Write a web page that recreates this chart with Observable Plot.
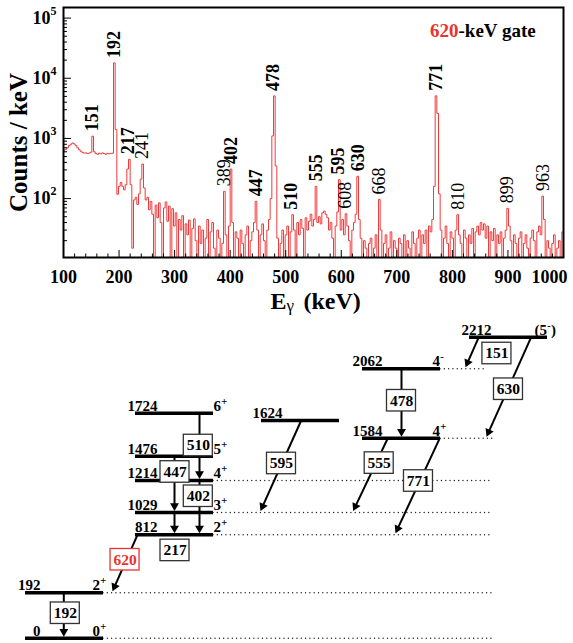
<!DOCTYPE html>
<html>
<head>
<meta charset="utf-8">
<script src="https://cdn.jsdelivr.net/npm/d3@7"></script>
<script src="https://cdn.jsdelivr.net/npm/@observablehq/plot@0.6"></script>
<style>
  html, body { margin: 0; padding: 0; background: #fff; }
  #chart svg { display: block; }
</style>
</head>
<body>
<div id="chart"></div>
<script>
// ---------------- DATA ----------------
// Gated gamma spectrum: counts per keV in 3-keV bins starting at 100 keV (0 = empty bin)
const binStart = 100;
const binWidth = 3;
const counts = [
  640,660,700,760,800,840,810,760,700,650,
  610,585,570,575,560,570,590,1090,600,560,
  545,570,555,575,560,545,565,555,560,570,
  18000,1400,118,160,185,160,140,170,310,450,
  170,15,95,105,80,120,210,375,150,95,
  105,65,90,55,0,78,48,85,40,0,
  70,88,42,75,0,68,35,58,0,45,
  30,52,0,38,25,44,0,32,46,20,
  0,35,18,30,0,22,45,0,28,40,
  15,0,30,22,0,18,132,25,0,35,
  310,40,0,28,22,0,30,18,0,25,
  35,0,20,28,40,90,30,0,25,38,
  20,0,30,45,100,1100,5090,350,22,0,
  18,30,0,25,35,0,28,54,30,0,
  40,25,45,32,0,48,30,42,55,35,
  45,160,40,50,38,58,62,55,48,30,
  40,22,0,35,60,207,30,45,25,56,
  35,20,0,30,40,55,235,45,22,0,
  20,15,0,18,22,0,15,25,0,97,
  30,0,18,25,0,15,28,0,20,15,
  0,22,18,0,25,0,20,15,0,28,
  18,0,22,30,0,25,18,30,0,35,
  28,45,160,5100,2600,120,30,0,22,35,
  18,0,28,22,0,30,54,25,18,0,
  30,22,0,25,18,32,0,28,35,25,
  40,30,38,22,35,0,28,20,32,0,
  25,18,28,0,22,30,69,35,20,0,
  25,18,0,22,28,0,18,25,15,0,
  22,30,20,0,28,35,25,110,45,0,
  20,15,0,18,25,0,15,20,0,28
];
// Labelled peaks
const peakEnergies = [151, 192, 217, 241, 389, 402, 447, 478, 510, 555, 595, 608, 630, 668, 771, 810, 899, 963];
const peakCounts   = [1090, 18000, 450, 375, 132, 310, 90, 5090, 54, 160, 207, 56, 235, 97, 5100, 54, 69, 110];
const peakBold     = [true, true, true, false, false, true, true, true, true, true, true, false, true, false, true, false, false, false];
// Axis ticks
const xTicks = [100, 200, 300, 400, 500, 600, 700, 800, 900, 1000];
const yDecades = [100, 1000, 10000, 100000];
const yExponents = ["2", "3", "4", "5"];
const gateEnergy = 620;

// Level scheme
const levelEnergies = [0, 192, 812, 1029, 1214, 1476, 1724, 1624, 1584, 2062, 2212];
const levelSpins    = ["0+", "2+", "2+", "3+", "4+", "5+", "6+", "", "4+", "4-", "(5-)"];
const levelColumns  = [0, 0, 1, 1, 1, 1, 1, 2, 3, 3, 4];
const levelDotted   = [true, true, true, true, true, false, false, false, true, true, false];
// Transitions
const gammaEnergies = [192, 620, 217, 447, 402, 510, 595, 555, 771, 478, 151, 630];
const gammaFrom     = [192, 812, 1029, 1476, 1214, 1724, 1624, 1584, 1584, 2062, 2212, 2212];
const gammaTo       = [0, 192, 812, 1029, 812, 1214, 1029, 1029, 812, 1584, 2062, 1584];

// ---------------- LAYOUT (drawing geometry of the schematic) ----------------
const FONT = '"Liberation Serif", "Times New Roman", Times, serif';
const RED_SPEC = "#ef3b3b";
const RED_GATE = "#e8342c";

const schemeLayout = {
  yRange: [319.7, 274.3, 216.3, 194, 162, 137.7, 119.7, 102, 94.7, 50.3, 18.7], // for sorted level energies
  columns: [[25, 103], [135, 213], [261, 339], [362, 440], [469, 547]],
  energyLabelOffset: [15, 22, 21, 20, 22],
  spinLabelOffset: [-11, 0, 0, -8, -13],
  dottedEnd: {2062: 487},
  dottedEndDefault: 492,
  // per transition: arrow start x, arrow end x, box position fraction t and x shift
  arrows: {
    192: {x0: 63.3, x1: 63.3, t: 0.45, dx: 1.5},
    620: {x0: 137, x1: 112, t: 0.43, dx: -1.7},
    217: {x0: 174, x1: 174, t: 1.70, dx: 0.5},
    447: {x0: 174, x1: 174, t: 0.28, dx: 0.5},
    402: {x0: 199, x1: 199, t: 0.29, dx: -1.2},
    510: {x0: 199, x1: 199, t: 0.48, dx: -1.2},
    595: {x0: 300.7, x1: 260, t: 0.467, dx: -0.7},
    555: {x0: 387.3, x1: 352.7, t: 0.335, dx: 3},
    771: {x0: 439.3, x1: 395, t: 0.443, dx: -1.7},
    478: {x0: 401, x1: 401, t: 0.46, dx: 0},
    151: {x0: 478.3, x1: 465, t: 0.516, dx: 25},
    630: {x0: 530.7, x1: 486, t: 0.515, dx: 0.3}
  },
  boxW: 29, boxH: 21.5, head: 5.1
};

// ---------------- SPECTRUM ----------------
const specData = counts.map((c, i) => ({e: binStart + binWidth * (i + 0.5), c: c > 0 ? c : 1}));
const peaks = peakEnergies.map((e, i) => ({e, c: peakCounts[i], bold: peakBold[i]}));
const xMinor = d3.range(120, 1000, 20).filter(v => v % 100 !== 0);
const yMinor = [1, 2, 3, 4].flatMap(k => [2, 3, 4, 5, 6, 7, 8, 9].map(m => m * 10 ** k));

const W = 573;
const H1 = 318;
const mT = 7, mR = 10, mB = 61, mL = 63;
const innerW = W - mL - mR, innerH = H1 - mT - mB;

const textBold = {fontWeight: "bold", fill: "black"};

const spectrum = Plot.plot({
  width: W, height: H1,
  marginTop: mT, marginRight: mR, marginBottom: mB, marginLeft: mL,
  x: {domain: [100, 1000], axis: null},
  y: {type: "log", domain: [10.5, 1.5e5], axis: null},
  style: {fontFamily: FONT, background: "white", overflow: "visible"},
  marks: [
    Plot.line(specData, {x: "e", y: "c", curve: "step", stroke: RED_SPEC, strokeWidth: 1, clip: true}),
    Plot.ruleX(xTicks, {x: d => d, insetTop: innerH - 7, stroke: "black", strokeWidth: 1}),
    Plot.ruleX(xMinor, {x: d => d, insetTop: innerH - 3.5, stroke: "black", strokeWidth: 1}),
    Plot.ruleY(yDecades, {y: d => d, insetRight: innerW - 8, stroke: "black", strokeWidth: 1}),
    Plot.ruleY(yMinor, {y: d => d, insetRight: innerW - 4, stroke: "black", strokeWidth: 1}),
    Plot.frame({stroke: "black", strokeWidth: 2}),
    // x tick labels
    Plot.text(xTicks.slice(0, -1), {x: d => d, text: d => String(d), frameAnchor: "bottom", dy: 25, lineAnchor: "bottom", fontSize: 18, ...textBold}),
    Plot.text(xTicks.slice(-1), {x: d => d, text: d => String(d), frameAnchor: "bottom", dy: 25, dx: 4, textAnchor: "end", lineAnchor: "bottom", fontSize: 18, ...textBold}),
    // y tick labels 10^n
    Plot.text(yDecades, {y: d => d, text: () => "10", frameAnchor: "left", dx: -13, textAnchor: "end", lineAnchor: "middle", fontSize: 18, ...textBold}),
    Plot.text(yDecades, {y: d => d, text: (d, i) => yExponents[i], frameAnchor: "left", dx: -13, dy: -7, textAnchor: "start", lineAnchor: "middle", fontSize: 12, ...textBold}),
    // axis titles
    Plot.text(["Counts / keV"], {frameAnchor: "left", dx: -45, dy: 10, rotate: -90, textAnchor: "middle", lineAnchor: "middle", fontSize: 25, ...textBold}),
    Plot.text(["E"], {frameAnchor: "bottom-left", dx: 207, dy: 51, textAnchor: "start", lineAnchor: "bottom", fontSize: 24, ...textBold}),
    Plot.text(["γ"], {frameAnchor: "bottom-left", dx: 223, dy: 53, textAnchor: "start", lineAnchor: "bottom", fontSize: 17, fill: "black"}),
    Plot.text(["(keV)"], {frameAnchor: "bottom-left", dx: 240, dy: 51, textAnchor: "start", lineAnchor: "bottom", fontSize: 24, ...textBold}),
    // gate annotation
    Plot.text([String(gateEnergy)], {frameAnchor: "top-right", dx: -105, dy: 23, textAnchor: "end", lineAnchor: "middle", fontSize: 19, fontWeight: "bold", fill: RED_GATE}),
    Plot.text(["-keV gate"], {frameAnchor: "top-right", dx: -105, dy: 23, textAnchor: "start", lineAnchor: "middle", fontSize: 19, ...textBold}),
    // peak labels
    Plot.text(peaks.filter(d => d.bold), {x: "e", y: "c", text: d => String(d.e), rotate: -90, textAnchor: "start", lineAnchor: "middle", dy: -5, fontSize: 18, ...textBold}),
    Plot.text(peaks.filter(d => !d.bold), {x: "e", y: "c", text: d => String(d.e), rotate: -90, textAnchor: "start", lineAnchor: "middle", dy: -5, fontSize: 18, fill: "black"})
  ]
});

// ---------------- LEVEL SCHEME ----------------
const H2 = 643 - H1;
const yDomain = levelEnergies.slice().sort((a, b) => a - b);
const yOpts = {type: "linear", domain: yDomain, range: schemeLayout.yRange};
// same piecewise mapping, used to place boxes and heads at fixed pixel sizes
const ys = d3.scaleLinear(yDomain, schemeLayout.yRange);
const cols = schemeLayout.columns;

const levels = levelEnergies.map((e, i) => ({e, spin: levelSpins[i], col: levelColumns[i], dotted: levelDotted[i]}));

const dotted = levels.filter(d => d.dotted).map(d => ({
  e: d.e, x1: cols[d.col][1], x2: schemeLayout.dottedEnd[d.e] ?? schemeLayout.dottedEndDefault
}));

const trans = gammaEnergies.map((g, i) => {
  const L = schemeLayout.arrows[g];
  const y0 = ys(gammaFrom[i]);
  const y1 = ys(gammaTo[i]);
  const tipY = y1 - 1.5;
  const dxp = L.x1 - L.x0, dyp = tipY - y0, len = Math.hypot(dxp, dyp);
  const ux = dxp / len, uy = dyp / len;
  const hx = L.x1 - ux * schemeLayout.head, hy = tipY - uy * schemeLayout.head;
  const bx = L.x0 + L.t * (L.x1 - L.x0) + L.dx;
  const by = y0 + L.t * (y1 - y0);
  return {
    g, gate: g === gateEnergy,
    x0: L.x0, from: gammaFrom[i],
    hx, hyE: ys.invert(hy), rot: Math.atan2(ux, -uy) * 180 / Math.PI,
    bx, byE: ys.invert(by),
    bTop: ys.invert(by - schemeLayout.boxH / 2), bBot: ys.invert(by + schemeLayout.boxH / 2)
  };
});

// spin labels split into main part, superscript parity and closing parenthesis
const spins = levels.filter(d => d.spin).map(d => {
  const m = d.spin.match(/^(\(?)(\d+)([+-])(\)?)$/);
  const start = cols[d.col][1] + schemeLayout.spinLabelOffset[d.col];
  const mainW = m[1].length * 5 + m[2].length * 7.5;
  const supW = m[3] === "+" ? 6 : 3.8;
  return {e: d.e, main: m[1] + m[2], sup: m[3], post: m[4], x: start, xs: start + mainW + 0.3, xp: start + mainW + 0.3 + supW};
});

const boxW2 = schemeLayout.boxW / 2;

const scheme = Plot.plot({
  width: W, height: H2,
  marginTop: 0, marginRight: 0, marginBottom: 0, marginLeft: 0,
  x: {domain: [0, W], range: [0, W], axis: null},
  y: {...yOpts, axis: null},
  style: {fontFamily: FONT, background: "white", overflow: "visible"},
  marks: [
    // dotted continuation lines
    Plot.ruleY(dotted, {y: "e", x1: "x1", x2: "x2", stroke: "#222", strokeWidth: 1.4, strokeDasharray: "0.01,4.3", strokeLinecap: "round"}),
    // levels
    Plot.ruleY(levels, {y: "e", x1: d => cols[d.col][0], x2: d => cols[d.col][1], stroke: "black", strokeWidth: 3.5}),
    // transition lines
    Plot.link(trans, {x1: "x0", y1: "from", x2: "hx", y2: "hyE", stroke: "black", strokeWidth: 2}),
    // arrow heads
    Plot.dot(trans, {x: "hx", y: "hyE", symbol: "triangle", r: 3.3, rotate: "rot", fill: "black", stroke: "none"}),
    // boxes
    Plot.rect(trans.filter(d => !d.gate), {x1: d => d.bx - boxW2, x2: d => d.bx + boxW2, y1: "bTop", y2: "bBot", fill: "white", stroke: "#333", strokeWidth: 1.3}),
    Plot.rect(trans.filter(d => d.gate), {x1: d => d.bx - boxW2, x2: d => d.bx + boxW2, y1: "bTop", y2: "bBot", fill: "white", stroke: RED_GATE, strokeWidth: 1.3}),
    Plot.text(trans.filter(d => !d.gate), {x: "bx", y: "byE", text: d => String(d.g), lineAnchor: "middle", fontSize: 15.5, ...textBold}),
    Plot.text(trans.filter(d => d.gate), {x: "bx", y: "byE", text: d => String(d.g), lineAnchor: "middle", fontSize: 15.5, fontWeight: "bold", fill: RED_GATE}),
    // level energy labels
    Plot.text(levels, {x: d => cols[d.col][0] + schemeLayout.energyLabelOffset[d.col], y: "e", text: d => String(d.e), textAnchor: "end", lineAnchor: "bottom", dy: -2.5, fontSize: 15, ...textBold}),
    // spin labels
    Plot.text(spins, {x: "x", y: "e", text: "main", textAnchor: "start", lineAnchor: "bottom", dy: -2.5, fontSize: 15, ...textBold}),
    Plot.text(spins, {x: "xs", y: "e", text: "sup", textAnchor: "start", lineAnchor: "bottom", dy: -8.5, fontSize: 10.5, ...textBold}),
    Plot.text(spins.filter(d => d.post), {x: "xp", y: "e", text: "post", textAnchor: "start", lineAnchor: "bottom", dy: -2.5, fontSize: 15, ...textBold})
  ]
});

const root = document.getElementById("chart");
root.appendChild(spectrum);
root.appendChild(scheme);
</script>
</body>
</html>
